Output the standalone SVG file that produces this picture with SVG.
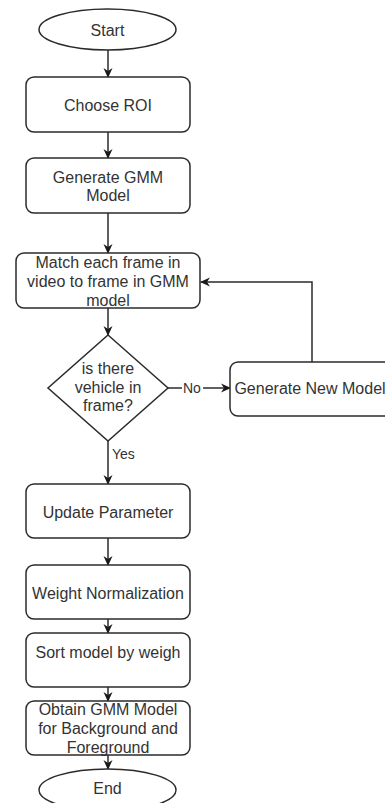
<svg xmlns="http://www.w3.org/2000/svg" width="385" height="803" viewBox="0 0 385 803">
<style>
.shape{fill:#ffffff;stroke:#2b2b2b;stroke-width:1.5}
.t{font-family:"Liberation Sans",Arial,sans-serif;font-size:16px;fill:#333333;text-anchor:middle;dominant-baseline:central}
.lbl{font-family:"Liberation Sans",Arial,sans-serif;font-size:14px;fill:#333333;dominant-baseline:central}
.edge{fill:none;stroke:#2b2b2b;stroke-width:1.5}
</style>
<defs>
<marker id="arr" viewBox="0 0 10 10" refX="9" refY="5" markerWidth="10" markerHeight="10" markerUnits="userSpaceOnUse" orient="auto">
<path d="M0,0.5 L10,5 L0,9.5 L3,5 z" fill="#1a1a1a"/>
</marker>
</defs>
<rect width="385" height="803" fill="#ffffff"/>
<g id="connectors">
<path class="edge" d="M108,50 L108,77" marker-end="url(#arr)"/>
<path class="edge" d="M108,132 L108,158" marker-end="url(#arr)"/>
<path class="edge" d="M108,213 L108,253" marker-end="url(#arr)"/>
<path class="edge" d="M108,308 L108,335" marker-end="url(#arr)"/>
<path class="edge" d="M168,388 L230,388" marker-end="url(#arr)"/>
<path class="edge" d="M312,362 L312,282 L201,282" marker-end="url(#arr)"/>
<path class="edge" d="M108,441 L108,484" marker-end="url(#arr)"/>
<path class="edge" d="M108,538 L108,565" marker-end="url(#arr)"/>
<path class="edge" d="M108,619 L108,633" marker-end="url(#arr)"/>
<path class="edge" d="M108,687 L108,701" marker-end="url(#arr)"/>
<path class="edge" d="M108,755 L108,769" marker-end="url(#arr)"/>
<rect x="182" y="380" width="21" height="16" fill="#ffffff"/>
<text class="lbl" x="183" y="388">No</text>
<text class="lbl" x="112" y="454">Yes</text>
</g>
<g id="start">
<ellipse class="shape" cx="107.5" cy="29.5" rx="68.5" ry="20.5"/>
<text class="t" x="107.5" y="30">Start</text>
</g>
<g id="choose-roi">
<rect class="shape" x="26" y="77" width="164" height="55" rx="8"/>
<text class="t" x="108" y="105">Choose ROI</text>
</g>
<g id="generate-gmm">
<rect class="shape" x="26" y="158" width="164" height="55" rx="8"/>
<text class="t" x="108" y="177">Generate GMM</text>
<text class="t" x="108" y="195">Model</text>
</g>
<g id="match">
<rect class="shape" x="16" y="253" width="184" height="55" rx="8"/>
<text class="t" x="108" y="262">Match each frame in</text>
<text class="t" x="108" y="281">video to frame in GMM</text>
<text class="t" x="108" y="300">model</text>
</g>
<g id="decision">
<path class="shape" d="M108,335 L168,388 L108,441 L48,388 Z"/>
<text class="t" x="108" y="368">is there</text>
<text class="t" x="108" y="387">vehicle in</text>
<text class="t" x="108" y="405">frame?</text>
</g>
<g id="generate-new">
<rect class="shape" x="230" y="362" width="162" height="54" rx="8"/>
<text class="t" x="310" y="388">Generate New Model</text>
</g>
<g id="update">
<rect class="shape" x="26" y="484" width="164" height="54" rx="8"/>
<text class="t" x="108" y="512">Update Parameter</text>
</g>
<g id="weight">
<rect class="shape" x="26" y="565" width="164" height="54" rx="8"/>
<text class="t" x="108" y="593">Weight Normalization</text>
</g>
<g id="sort">
<rect class="shape" x="26" y="633" width="164" height="54" rx="8"/>
<text class="t" x="108" y="652">Sort model by weigh</text>
</g>
<g id="obtain">
<rect class="shape" x="26" y="701" width="164" height="54" rx="8"/>
<text class="t" x="108" y="709">Obtain GMM Model</text>
<text class="t" x="108" y="728">for Background and</text>
<text class="t" x="108" y="747">Foreground</text>
</g>
<g id="end">
<ellipse class="shape" cx="107.5" cy="790" rx="68.5" ry="21"/>
<text class="t" x="107.5" y="788">End</text>
</g>
</svg>
